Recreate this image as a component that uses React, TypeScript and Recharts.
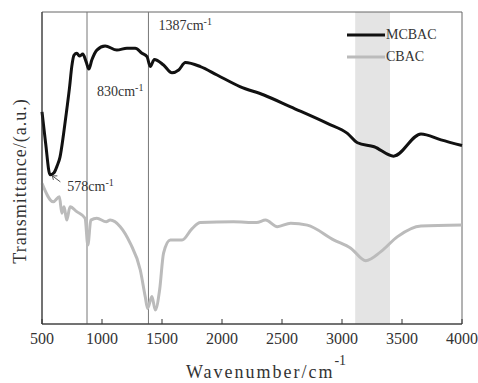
import {
  LineChart,
  Line,
  XAxis,
  YAxis,
  ReferenceLine,
  ReferenceArea,
  ReferenceDot,
  Label
} from 'recharts'

// wavenumber ticks
const xTicks = [500, 1000, 1500, 2000, 2500, 3000, 3500, 4000]

// MCBAC trace (arbitrary transmittance units)
const mcbacWave = [500, 530, 567, 600, 625, 650, 680, 706, 730, 748, 767, 790, 812, 840, 868, 890, 915, 957, 1026, 1124, 1208, 1277, 1333, 1375, 1402, 1436, 1513, 1583, 1639, 1695, 1820, 1959, 2149, 2349, 2572, 2878, 3045, 3129, 3268, 3430, 3658, 3825, 4000]
const mcbacT = [68, 58, 47.8, 48.5, 50.6, 53.5, 61, 68.6, 76, 82.5, 86.2, 86.8, 85.9, 86.5, 84, 81.7, 84.6, 87.8, 89.1, 87.8, 88.4, 88.4, 86.8, 85.7, 82.5, 84.8, 83, 80.5, 81.4, 83.8, 82.5, 79.8, 76.1, 73.4, 69.6, 64.3, 61.1, 58.1, 56.8, 53.8, 60.9, 59, 57.2]

// CBAC trace
const cbacWave = [500, 594, 645, 665, 684, 706, 734, 790, 859, 882, 907, 957, 1035, 1068, 1152, 1235, 1319, 1360, 1380, 1416, 1444, 1480, 1513, 1569, 1667, 1751, 1820, 2096, 2288, 2363, 2461, 2572, 2711, 2934, 3073, 3198, 3324, 3463, 3658, 4000]
const cbacT = [45.1, 39.2, 40.8, 35.5, 37.6, 33.3, 37.6, 36, 33.9, 25.3, 33.3, 33.9, 32.8, 33.3, 31.2, 25.9, 17.3, 8.8, 5, 8.8, 4.5, 10.9, 22.7, 26.9, 26.9, 30.6, 32.5, 32.8, 32.5, 33.3, 31.2, 32.3, 31.7, 26.9, 24.3, 20.3, 23.2, 28, 31.4, 31.7]

const peakLines = [875, 1387]
const peakLabels = ['830', '1387']
const band = [3110, 3400]

const mcbacData = mcbacWave.map((w, i) => ({ w, t: mcbacT[i] }))
const cbacData = cbacWave.map((w, i) => ({ w, t: cbacT[i] }))

const font = '"Liberation Serif", serif'

function PeakLabel({ viewBox, text, dy }: any) {
  const x = viewBox.x + 10
  return (
    <text x={x} y={viewBox.y + dy} style={{ fontFamily: font }} fontSize={14} fill="#333">
      <tspan>{text}cm</tspan>
      <tspan dy={-5} fontSize={10}>-1</tspan>
    </text>
  )
}

function Arrow578(p: any) {
  const { cx, cy } = p
  return (
    <g>
      <line x1={cx + 9} y1={cy + 7} x2={cx + 1} y2={cy + 1} stroke="#555" strokeWidth={1} />
      <path d={`M${cx + 1} ${cy + 1} l5 0 M${cx + 1} ${cy + 1} l1 4`} stroke="#555" strokeWidth={1} fill="none" />
      <text x={cx + 16} y={cy + 16} style={{ fontFamily: font }} fontSize={14} fill="#333">
        <tspan>578cm</tspan>
        <tspan dy={-5} fontSize={10}>-1</tspan>
      </text>
    </g>
  )
}

const legendRows = [
  { name: 'MCBAC', color: '#111' },
  { name: 'CBAC', color: '#bbb' }
]

export default function App() {
  return (
    <div style={{ position: 'absolute', left: 0, top: 0, width: 478, height: 383, background: '#fff', fontFamily: font }}>
      <LineChart width={478} height={383} margin={{ top: 12, right: 16, left: 0, bottom: 0 }}>
        <ReferenceArea x1={band[0]} x2={band[1]} y1={0} y2={100} fill="#e4e4e4" fillOpacity={1} stroke="none" />
        <ReferenceArea x1={500} x2={4000} y1={0} y2={100} fill="none" stroke="#666" strokeWidth={1} />
        <XAxis
          dataKey="w"
          type="number"
          domain={[500, 4000]}
          ticks={xTicks}
          allowDuplicatedCategory={false}
          height={59}
          stroke="#333"
          tickSize={-5}
          tickMargin={14}
          tick={{ fill: '#333', fontSize: 16, style: { fontFamily: font } }}
        >
          <Label
            content={() => (
              <text x={266} y={378} textAnchor="middle" style={{ fontFamily: font, letterSpacing: 2 }} fontSize={18} fill="#333">
                <tspan>Wavenumber/cm</tspan>
                <tspan dy={-13} fontSize={14} style={{ letterSpacing: 0 }}>-1</tspan>
              </text>
            )}
          />
        </XAxis>
        <YAxis domain={[0, 100]} tick={false} tickLine={false} stroke="#333" width={42}>
          <Label
            content={() => (
              <text x={26} y={181} transform="rotate(-90 26 181)" textAnchor="middle" style={{ fontFamily: font, letterSpacing: 1 }} fontSize={18} fill="#333">
                Transmittance/(a.u.)
              </text>
            )}
          />
        </YAxis>
        {peakLines.map((x, i) => (
          <ReferenceLine
            key={x}
            x={x}
            stroke="#777"
            strokeWidth={1}
            label={<PeakLabel text={peakLabels[i]} dy={i === 0 ? 84 : 18} />}
          />
        ))}
        <Line data={mcbacData} dataKey="t" name="MCBAC" type="monotone" stroke="#111" strokeWidth={3} dot={false} isAnimationActive={false} />
        <Line data={cbacData} dataKey="t" name="CBAC" type="monotone" stroke="#bbb" strokeWidth={3} dot={false} isAnimationActive={false} />
        <ReferenceDot x={578} y={47.8} r={0} shape={Arrow578} />
      </LineChart>
      <div style={{ position: 'absolute', left: 347, top: 24, fontSize: 14, color: '#333' }}>
        {legendRows.map((r) => (
          <div key={r.name} style={{ display: 'flex', alignItems: 'center', height: 22 }}>
            <svg width={38} height={6}>
              <line x1={0} y1={3} x2={38} y2={3} stroke={r.color} strokeWidth={3} />
            </svg>
            <span style={{ marginLeft: 1 }}>{r.name}</span>
          </div>
        ))}
      </div>
    </div>
  )
}
